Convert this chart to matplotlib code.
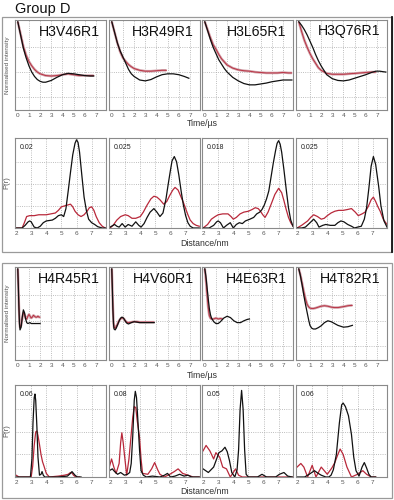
import matplotlib
matplotlib.use("Agg")
import matplotlib.pyplot as plt
import numpy as np
from matplotlib.patches import Rectangle
from matplotlib.lines import Line2D

plt.rcParams['font.family'] = ['Liberation Sans', 'DejaVu Sans']

W, H = 394, 500

# ---- time domain traces, group H3 ----
t_h3v46 = [0, 0.25, 0.5, 0.75, 1.0, 1.25, 1.5, 1.75, 2.0, 2.25, 2.5, 3.0, 3.5, 4.0, 4.5, 5.0, 5.5, 6.0, 6.5, 6.8]
exp_h3v46 = [1.0, 0.86, 0.72, 0.62, 0.55, 0.50, 0.46, 0.43, 0.41, 0.40, 0.39, 0.385, 0.39, 0.40, 0.41, 0.40, 0.39, 0.39, 0.39, 0.39]
sim_h3v46 = [1.0, 0.85, 0.70, 0.59, 0.50, 0.43, 0.38, 0.345, 0.325, 0.315, 0.315, 0.335, 0.37, 0.40, 0.415, 0.41, 0.40, 0.39, 0.385, 0.385]

t_h3r49_exp = [0, 0.25, 0.5, 0.75, 1.0, 1.25, 1.5, 1.75, 2.0, 2.5, 3.0, 3.5, 4.0, 4.5, 4.9]
exp_h3r49 = [1.0, 0.88, 0.76, 0.66, 0.59, 0.55, 0.515, 0.49, 0.47, 0.45, 0.44, 0.44, 0.445, 0.45, 0.45]
t_h3r49_sim = [0, 0.25, 0.5, 0.75, 1.0, 1.25, 1.5, 1.75, 2.0, 2.5, 3.0, 3.5, 4.0, 4.5, 5.0, 5.5, 6.0, 6.5, 6.9]
sim_h3r49 = [1.0, 0.88, 0.76, 0.67, 0.60, 0.53, 0.46, 0.41, 0.38, 0.34, 0.33, 0.345, 0.375, 0.40, 0.41, 0.41, 0.40, 0.38, 0.36]

t_h3l65 = [0, 0.25, 0.5, 0.75, 1.0, 1.25, 1.5, 1.75, 2.0, 2.5, 3.0, 3.5, 4.0, 4.5, 5.0, 5.5, 6.0, 6.5, 7.0, 7.5, 7.8]
exp_h3l65 = [1.0, 0.91, 0.82, 0.74, 0.69, 0.63, 0.58, 0.545, 0.51, 0.475, 0.455, 0.445, 0.44, 0.43, 0.425, 0.42, 0.42, 0.42, 0.425, 0.42, 0.42]
sim_h3l65 = [1.0, 0.90, 0.80, 0.71, 0.64, 0.57, 0.52, 0.47, 0.43, 0.37, 0.33, 0.30, 0.285, 0.285, 0.295, 0.305, 0.32, 0.33, 0.34, 0.34, 0.34]

t_h3q76_exp = [0, 0.25, 0.5, 0.75, 1.0, 1.25, 1.5, 1.75, 2.0, 2.5, 3.0, 3.5, 4.0, 4.5, 5.0, 5.5, 6.0, 6.5, 6.9]
exp_h3q76 = [1.0, 0.89, 0.79, 0.71, 0.64, 0.58, 0.53, 0.48, 0.45, 0.415, 0.405, 0.405, 0.405, 0.41, 0.415, 0.42, 0.425, 0.43, 0.43]
t_h3q76_sim = [0, 0.25, 0.5, 0.75, 1.0, 1.25, 1.5, 1.75, 2.0, 2.5, 3.0, 3.5, 4.0, 4.5, 5.0, 5.5, 6.0, 6.5, 6.9, 7.25, 7.5, 7.8]
sim_h3q76 = [1.0, 0.96, 0.91, 0.85, 0.78, 0.71, 0.63, 0.56, 0.50, 0.40, 0.355, 0.335, 0.33, 0.34, 0.36, 0.38, 0.40, 0.425, 0.44, 0.44, 0.435, 0.43]

# ---- time domain traces, group H4 ----
t_h4r45 = [0, 0.05, 0.1, 0.15, 0.2, 0.3, 0.4, 0.5, 0.6, 0.7, 0.8, 0.9, 1.0, 1.1, 1.2, 1.3, 1.4, 1.5, 1.6, 1.7, 1.8, 1.9, 2.0]
exp_h4r45 = [1.0, 0.82, 0.60, 0.43, 0.36, 0.38, 0.46, 0.52, 0.50, 0.46, 0.45, 0.48, 0.50, 0.48, 0.46, 0.47, 0.49, 0.48, 0.47, 0.47, 0.48, 0.47, 0.47]
sim_h4r45 = [1.0, 0.80, 0.58, 0.40, 0.33, 0.36, 0.47, 0.55, 0.52, 0.45, 0.41, 0.40, 0.405, 0.41, 0.40, 0.40, 0.40, 0.40, 0.40, 0.40, 0.40, 0.40, 0.40]

t_h4v60 = [0, 0.05, 0.1, 0.15, 0.2, 0.3, 0.4, 0.5, 0.6, 0.7, 0.8, 0.9, 1.0, 1.1, 1.2, 1.3, 1.4, 1.5, 1.75, 2.0, 2.25, 2.5, 3.0, 3.5, 3.8]
exp_h4v60 = [1.0, 0.80, 0.58, 0.43, 0.36, 0.35, 0.37, 0.39, 0.42, 0.44, 0.455, 0.46, 0.46, 0.45, 0.43, 0.42, 0.41, 0.41, 0.415, 0.42, 0.42, 0.415, 0.415, 0.415, 0.415]
sim_h4v60 = [1.0, 0.78, 0.55, 0.40, 0.34, 0.33, 0.35, 0.38, 0.41, 0.44, 0.46, 0.47, 0.465, 0.45, 0.43, 0.41, 0.40, 0.395, 0.41, 0.42, 0.415, 0.41, 0.41, 0.41, 0.41]

t_h4e63_exp = [0, 0.1, 0.2, 0.3, 0.4, 0.5, 0.6, 0.8, 1.0, 1.2, 1.4, 1.6]
exp_h4e63 = [1.0, 0.88, 0.72, 0.58, 0.49, 0.46, 0.45, 0.45, 0.46, 0.45, 0.455, 0.45]
t_h4e63_sim = [0, 0.1, 0.2, 0.3, 0.4, 0.5, 0.6, 0.8, 1.0, 1.2, 1.4, 1.7, 2.0, 2.3, 2.6, 2.9, 3.2, 3.5, 3.8, 4.0]
sim_h4e63 = [1.0, 0.92, 0.80, 0.68, 0.57, 0.50, 0.46, 0.42, 0.40, 0.40, 0.42, 0.46, 0.48, 0.465, 0.43, 0.41, 0.41, 0.43, 0.445, 0.45]

t_h4t82 = [0, 0.15, 0.3, 0.45, 0.6, 0.75, 0.9, 1.0, 1.15, 1.3, 1.5, 1.75, 2.0, 2.3, 2.6, 2.9, 3.2, 3.5, 4.0, 4.4, 4.8]
exp_h4t82 = [1.0, 0.93, 0.84, 0.75, 0.67, 0.61, 0.58, 0.57, 0.565, 0.565, 0.57, 0.58, 0.59, 0.595, 0.59, 0.58, 0.575, 0.575, 0.585, 0.595, 0.60]
sim_h4t82 = [1.0, 0.92, 0.82, 0.71, 0.61, 0.52, 0.43, 0.38, 0.35, 0.34, 0.34, 0.355, 0.375, 0.41, 0.43, 0.42, 0.40, 0.38, 0.36, 0.365, 0.38]

# ---- distance distributions (height as fraction of panel max) ----
pmax_h3 = [0.02, 0.025, 0.018, 0.025]
pmax_h4 = [0.06, 0.08, 0.05, 0.06]
pmax_labels_h3 = ["0.02", "0.025", "0.018", "0.025"]
pmax_labels_h4 = ["0.06", "0.08", "0.05", "0.06"]

r_h3v46_sim = [2.0, 2.4, 2.6, 2.8, 2.9, 3.0, 3.2, 3.4, 3.6, 3.8, 4.0, 4.2, 4.4, 4.6, 4.8, 5.0, 5.15, 5.3, 5.45, 5.6, 5.75, 5.9, 6.0, 6.1, 6.2, 6.35, 6.5, 6.65, 6.8, 7.0, 7.2, 7.4, 7.7, 7.9]
p_h3v46_sim = [0, 0, 0.03, 0.07, 0.08, 0.07, 0.01, 0.0, 0.02, 0.06, 0.08, 0.085, 0.09, 0.11, 0.14, 0.15, 0.13, 0.22, 0.42, 0.63, 0.83, 0.96, 1.0, 0.97, 0.86, 0.6, 0.35, 0.2, 0.1, 0.06, 0.04, 0.015, 0.0, 0.0]
r_h3v46_exp = [2.0, 2.4, 2.55, 2.7, 2.9, 3.2, 3.5, 3.8, 4.0, 4.3, 4.6, 4.8, 5.0, 5.2, 5.4, 5.6, 5.75, 5.9, 6.1, 6.3, 6.5, 6.7, 6.85, 7.0, 7.15, 7.3, 7.5, 7.7, 7.9]
p_h3v46_exp = [0, 0, 0.06, 0.13, 0.14, 0.14, 0.15, 0.15, 0.15, 0.16, 0.17, 0.2, 0.24, 0.25, 0.26, 0.27, 0.24, 0.19, 0.15, 0.13, 0.15, 0.19, 0.23, 0.24, 0.2, 0.13, 0.06, 0.02, 0.0]

r_h3r49_sim = [2.0, 2.1, 2.3, 2.45, 2.6, 2.8, 3.0, 3.2, 3.45, 3.7, 3.9, 4.05, 4.25, 4.45, 4.65, 4.9, 5.1, 5.3, 5.5, 5.7, 5.85, 6.0, 6.1, 6.25, 6.4, 6.55, 6.7, 6.85, 7.0, 7.15, 7.3, 7.5, 7.9]
p_h3r49_sim = [0.01, 0.02, 0.04, 0.02, 0.01, 0.05, 0.01, 0.04, 0.02, 0.07, 0.03, 0.01, 0.05, 0.12, 0.18, 0.22, 0.18, 0.13, 0.17, 0.33, 0.5, 0.66, 0.76, 0.81, 0.75, 0.6, 0.42, 0.26, 0.14, 0.06, 0.02, 0.0, 0.0]
r_h3r49_exp = [2.0, 2.2, 2.45, 2.7, 3.0, 3.2, 3.45, 3.7, 4.0, 4.2, 4.45, 4.7, 4.9, 5.1, 5.3, 5.55, 5.75, 5.95, 6.15, 6.3, 6.5, 6.65, 6.85, 7.0, 7.15, 7.3, 7.5, 7.7, 7.9]
p_h3r49_exp = [0.0, 0.03, 0.09, 0.13, 0.15, 0.14, 0.11, 0.11, 0.13, 0.18, 0.26, 0.33, 0.36, 0.35, 0.32, 0.27, 0.3, 0.37, 0.43, 0.46, 0.43, 0.37, 0.29, 0.22, 0.15, 0.09, 0.05, 0.03, 0.02]

r_h3l65_sim = [2.0, 2.4, 2.7, 2.9, 3.0, 3.15, 3.35, 3.55, 3.8, 4.0, 4.2, 4.4, 4.6, 4.8, 5.1, 5.35, 5.55, 5.75, 5.9, 6.05, 6.2, 6.35, 6.5, 6.65, 6.8, 6.9, 7.0, 7.1, 7.2, 7.35, 7.5, 7.65, 7.8, 7.95]
p_h3l65_sim = [0, 0, 0.03, 0.07, 0.08, 0.06, 0.0, 0.03, 0.06, 0.0, 0.04, 0.06, 0.05, 0.08, 0.1, 0.12, 0.16, 0.18, 0.21, 0.26, 0.33, 0.42, 0.58, 0.74, 0.88, 0.96, 0.99, 0.95, 0.86, 0.66, 0.44, 0.23, 0.09, 0.02]
r_h3l65_exp = [2.0, 2.3, 2.55, 2.8, 3.0, 3.3, 3.65, 3.85, 4.0, 4.2, 4.45, 4.7, 5.0, 5.25, 5.45, 5.65, 5.8, 5.95, 6.1, 6.3, 6.55, 6.75, 7.0, 7.2, 7.35, 7.5, 7.65, 7.8, 7.95]
p_h3l65_exp = [0.0, 0.04, 0.1, 0.13, 0.15, 0.16, 0.16, 0.13, 0.1, 0.12, 0.16, 0.18, 0.19, 0.21, 0.23, 0.22, 0.19, 0.15, 0.12, 0.18, 0.29, 0.38, 0.45, 0.4, 0.31, 0.21, 0.12, 0.06, 0.02]

r_h3q76_sim = [2.0, 2.3, 2.55, 2.8, 3.1, 3.3, 3.45, 3.7, 3.9, 4.2, 4.5, 4.7, 4.9, 5.1, 5.35, 5.6, 5.8, 6.0, 6.25, 6.45, 6.6, 6.75, 6.9, 7.05, 7.2, 7.4, 7.55, 7.75, 7.95]
p_h3q76_sim = [0.0, 0.0, 0.01, 0.05, 0.1, 0.06, 0.01, 0.03, 0.04, 0.03, 0.03, 0.06, 0.08, 0.07, 0.04, 0.02, 0.0, 0.01, 0.02, 0.1, 0.23, 0.45, 0.7, 0.81, 0.72, 0.47, 0.25, 0.08, 0.01]
r_h3q76_exp = [2.0, 2.3, 2.7, 2.9, 3.1, 3.35, 3.6, 3.8, 4.0, 4.25, 4.5, 4.75, 5.05, 5.35, 5.6, 5.85, 6.05, 6.3, 6.5, 6.7, 6.9, 7.05, 7.2, 7.35, 7.5, 7.7, 7.95]
p_h3q76_exp = [0.0, 0.03, 0.08, 0.12, 0.15, 0.13, 0.1, 0.11, 0.14, 0.17, 0.19, 0.2, 0.2, 0.21, 0.22, 0.18, 0.14, 0.16, 0.18, 0.24, 0.32, 0.35, 0.3, 0.24, 0.19, 0.1, 0.04]

r_h4r45_sim = [2.0, 2.5, 2.95, 3.05, 3.12, 3.2, 3.25, 3.3, 3.38, 3.45, 3.55, 3.65, 3.72, 3.8, 3.9, 4.7, 5.1, 5.4, 5.6, 5.7, 5.8, 5.9, 6.05, 6.3]
p_h4r45_sim = [0, 0, 0, 0.2, 0.6, 0.88, 0.92, 0.85, 0.55, 0.22, 0.02, 0.03, 0.06, 0.02, 0, 0, 0.005, 0.01, 0.04, 0.06, 0.04, 0.02, 0, 0]
r_h4r45_exp = [2.0, 2.1, 2.2, 2.5, 3.0, 3.1, 3.2, 3.3, 3.38, 3.45, 3.55, 3.65, 3.75, 3.85, 4.0, 4.2, 4.8, 5.2, 5.45, 5.6, 5.7, 5.8, 5.95, 6.2]
p_h4r45_exp = [0.02, 0.01, 0.0, 0.0, 0.0, 0.12, 0.35, 0.5, 0.51, 0.46, 0.36, 0.25, 0.17, 0.12, 0.04, 0.0, 0.01, 0.02, 0.03, 0.05, 0.045, 0.02, 0.0, 0.0]

r_h4v60_sim = [1.95, 2.15, 2.3, 2.5, 2.7, 2.95, 3.15, 3.3, 3.4, 3.5, 3.6, 3.67, 3.75, 3.85, 3.95, 4.05, 4.2, 4.4, 4.8, 5.3, 5.6, 5.8, 6.0, 6.3, 6.6, 6.9, 7.15, 7.4, 7.9]
p_h4v60_sim = [0.07, 0.09, 0.06, 0.03, 0.05, 0.02, 0.03, 0.05, 0.15, 0.45, 0.85, 0.95, 0.88, 0.6, 0.3, 0.07, 0.02, 0.0, 0.01, 0.0, 0.02, 0.04, 0.0, 0.01, 0.03, 0.01, 0.02, 0.0, 0.0]
r_h4v60_exp = [1.95, 2.1, 2.25, 2.4, 2.6, 2.7, 2.78, 2.87, 2.95, 3.1, 3.25, 3.38, 3.5, 3.6, 3.7, 3.8, 3.95, 4.05, 4.15, 4.5, 4.75, 4.95, 5.15, 5.3, 5.6, 5.95, 6.25, 6.5, 6.8, 7.15, 7.5, 7.9]
p_h4v60_exp = [0.11, 0.2, 0.11, 0.04, 0.15, 0.38, 0.49, 0.38, 0.25, 0.02, 0.2, 0.44, 0.66, 0.78, 0.77, 0.62, 0.44, 0.2, 0.04, 0.03, 0.09, 0.16, 0.08, 0.03, 0.0, 0.03, 0.06, 0.09, 0.04, 0.02, 0.0, 0.0]

r_h4e63_sim = [2.0, 2.35, 2.7, 2.9, 3.05, 3.25, 3.45, 3.6, 3.75, 3.9, 4.1, 4.25, 4.35, 4.45, 4.55, 4.65, 4.75, 4.85, 5.0, 5.6, 5.9, 6.2, 6.8, 7.05, 7.35, 7.6, 7.9]
p_h4e63_sim = [0.09, 0.05, 0.11, 0.2, 0.27, 0.29, 0.33, 0.28, 0.18, 0.05, 0.0, 0.08, 0.3, 0.75, 0.96, 0.75, 0.3, 0.03, 0.0, 0.0, 0.03, 0.0, 0.0, 0.03, 0.05, 0.01, 0.0]
r_h4e63_exp = [2.0, 2.2, 2.45, 2.7, 2.85, 3.1, 3.3, 3.55, 3.8, 4.0, 4.15, 4.35, 4.6, 5.0, 6.0, 7.9]
p_h4e63_exp = [0.29, 0.35, 0.29, 0.2, 0.27, 0.22, 0.11, 0.09, 0.0, 0.05, 0.09, 0.02, 0.0, 0.0, 0.0, 0.0]

r_h4t82_sim = [2.0, 2.5, 2.8, 3.15, 3.4, 3.6, 3.9, 4.1, 4.25, 4.4, 4.6, 4.8, 4.95, 5.05, 5.2, 5.4, 5.6, 5.75, 5.9, 6.1, 6.3, 6.45, 6.6, 6.75, 6.9, 7.2]
p_h4t82_sim = [0.0, 0.0, 0.03, 0.07, 0.04, 0.02, 0.0, 0.0, 0.02, 0.08, 0.25, 0.6, 0.8, 0.82, 0.78, 0.68, 0.47, 0.22, 0.07, 0.01, 0.11, 0.16, 0.1, 0.03, 0.0, 0.0]
r_h4t82_exp = [2.0, 2.25, 2.45, 2.7, 3.0, 3.25, 3.6, 3.8, 4.0, 4.3, 4.5, 4.7, 4.85, 5.05, 5.3, 5.6, 6.0, 6.35, 6.6, 6.9, 7.2]
p_h4t82_exp = [0.11, 0.15, 0.11, 0.0, 0.13, 0.0, 0.11, 0.07, 0.03, 0.1, 0.16, 0.25, 0.31, 0.25, 0.11, 0.0, 0.03, 0.07, 0.03, 0.0, 0.0]

names_h3 = ["H3V46R1", "H3R49R1", "H3L65R1", "H3Q76R1"]
names_h4 = ["H4R45R1", "H4V60R1", "H4E63R1", "H4T82R1"]
time_ticks = [0, 1, 2, 3, 4, 5, 6, 7]
dist_ticks = [2, 3, 4, 5, 6, 7]

# pixel layout of the figure
cols = [(15, 106), (109, 200), (202, 293), (296, 387)]
rows = {"t1": (20, 110), "d1": (138, 228), "t2": (267, 360), "d2": (385, 477)}

BLACK = "#111111"
RED = "#b8283a"
PINK = "#cf9ea6"
GRID = "#a8a8a8"
TXT = "#555555"


def make_axes(fig, col, row):
    x0, x1 = cols[col]
    y0, y1 = rows[row]
    ax = fig.add_axes([x0 / W, 1 - y1 / H, (x1 - x0) / W, (y1 - y0) / H])
    for s in ax.spines.values():
        s.set_color("#8a8a8a")
        s.set_linewidth(0.8)
    ax.tick_params(length=0, labelsize=4.6, labelcolor=TXT, pad=2.5)
    return ax


def time_panel(fig, col, row, name, t_exp, y_exp, t_sim, y_sim):
    ax = make_axes(fig, col, row)
    ax.set_xlim(-0.25, 7.9)
    ax.set_ylim(0, 1.02)
    for v in time_ticks[1:]:
        ax.axvline(v, color=GRID, lw=0.6, ls=":", zorder=0)
    for v in [0.15, 0.43, 0.71]:
        ax.axhline(v, color=GRID, lw=0.6, ls=":", zorder=0)
    ax.plot(t_exp, y_exp, color=PINK, lw=1.8, solid_capstyle="butt")
    ax.plot(t_exp, y_exp, color=RED, lw=0.6)
    ax.plot(t_sim, y_sim, color=BLACK, lw=0.9)
    ax.set_xticks(time_ticks)
    ax.set_yticks([])
    ax.text(0.93, 0.95, name, transform=ax.transAxes, ha="right", va="top",
            fontsize=10.2, color="#111111")
    return ax


def dist_panel(fig, col, row, label, pmax, r_exp, p_exp, r_sim, p_sim):
    ax = make_axes(fig, col, row)
    ax.set_xlim(1.93, 7.95)
    ax.set_ylim(0, pmax * 1.02)
    for v in dist_ticks[1:]:
        ax.axvline(v, color=GRID, lw=0.6, ls=":", zorder=0)
    for f in [0.25, 0.5, 0.75]:
        ax.axhline(f * pmax, color=GRID, lw=0.6, ls=":", zorder=0)
    ax.plot(r_exp, np.array(p_exp) * pmax, color=RED, lw=0.9)
    ax.plot(r_sim, np.array(p_sim) * pmax, color=BLACK, lw=0.9)
    ax.set_xticks(dist_ticks)
    ax.set_yticks([])
    ax.text(0.05, 0.93, label, transform=ax.transAxes, ha="left", va="top",
            fontsize=5, color="#222222")
    return ax


fig = plt.figure(figsize=(W / 100, H / 100), dpi=100)
fig.patch.set_facecolor("white")

# framed boxes around each group
for (by0, by1) in [(17, 252), (263, 498)]:
    fig.patches.append(Rectangle((2 / W, 1 - by1 / H), 390 / W, (by1 - by0) / H,
                                 transform=fig.transFigure, fill=False,
                                 edgecolor="#9a9a9a", lw=0.9))
fig.lines.append(Line2D([392 / W, 392 / W], [1 - 252 / H, 1 - 17 / H],
                        transform=fig.transFigure, color="#111111", lw=1.3))

fig.text(15 / W, 1 - 9 / H, "Group D", fontsize=10.5, ha="left", va="center", color="#111111")

time_h3 = [(t_h3v46, exp_h3v46, t_h3v46, sim_h3v46),
           (t_h3r49_exp, exp_h3r49, t_h3r49_sim, sim_h3r49),
           (t_h3l65, exp_h3l65, t_h3l65, sim_h3l65),
           (t_h3q76_exp, exp_h3q76, t_h3q76_sim, sim_h3q76)]
time_h4 = [(t_h4r45, exp_h4r45, t_h4r45, sim_h4r45),
           (t_h4v60, exp_h4v60, t_h4v60, sim_h4v60),
           (t_h4e63_exp, exp_h4e63, t_h4e63_sim, sim_h4e63),
           (t_h4t82, exp_h4t82, t_h4t82, sim_h4t82)]
dist_h3 = [(r_h3v46_exp, p_h3v46_exp, r_h3v46_sim, p_h3v46_sim),
           (r_h3r49_exp, p_h3r49_exp, r_h3r49_sim, p_h3r49_sim),
           (r_h3l65_exp, p_h3l65_exp, r_h3l65_sim, p_h3l65_sim),
           (r_h3q76_exp, p_h3q76_exp, r_h3q76_sim, p_h3q76_sim)]
dist_h4 = [(r_h4r45_exp, p_h4r45_exp, r_h4r45_sim, p_h4r45_sim),
           (r_h4v60_exp, p_h4v60_exp, r_h4v60_sim, p_h4v60_sim),
           (r_h4e63_exp, p_h4e63_exp, r_h4e63_sim, p_h4e63_sim),
           (r_h4t82_exp, p_h4t82_exp, r_h4t82_sim, p_h4t82_sim)]

for i in range(4):
    time_panel(fig, i, "t1", names_h3[i], *time_h3[i])
    dist_panel(fig, i, "d1", pmax_labels_h3[i], pmax_h3[i], *dist_h3[i])
    time_panel(fig, i, "t2", names_h4[i], *time_h4[i])
    dist_panel(fig, i, "d2", pmax_labels_h4[i], pmax_h4[i], *dist_h4[i])

# axis titles
for ty, dy, (tr0, tr1), (dr0, dr1) in [(124, 243, rows["t1"], rows["d1"]),
                                      (375, 492, rows["t2"], rows["d2"])]:
    fig.text(202 / W, 1 - ty / H, "Time/\u00b5s", fontsize=6.3, ha="center", va="center", color="#333333")
    fig.text(205 / W, 1 - dy / H, "Distance/nm", fontsize=6.3, ha="center", va="center", color="#333333")
    fig.text(7 / W, 1 - (tr0 + tr1) / 2 / H, "Normalised intensity", fontsize=4.6,
             rotation=90, ha="center", va="center", color=TXT)
    fig.text(7 / W, 1 - (dr0 + dr1) / 2 / H, "P(r)", fontsize=5.5,
             rotation=90, ha="center", va="center", color=TXT)

fig.savefig("out.png", dpi=100, facecolor="white")
